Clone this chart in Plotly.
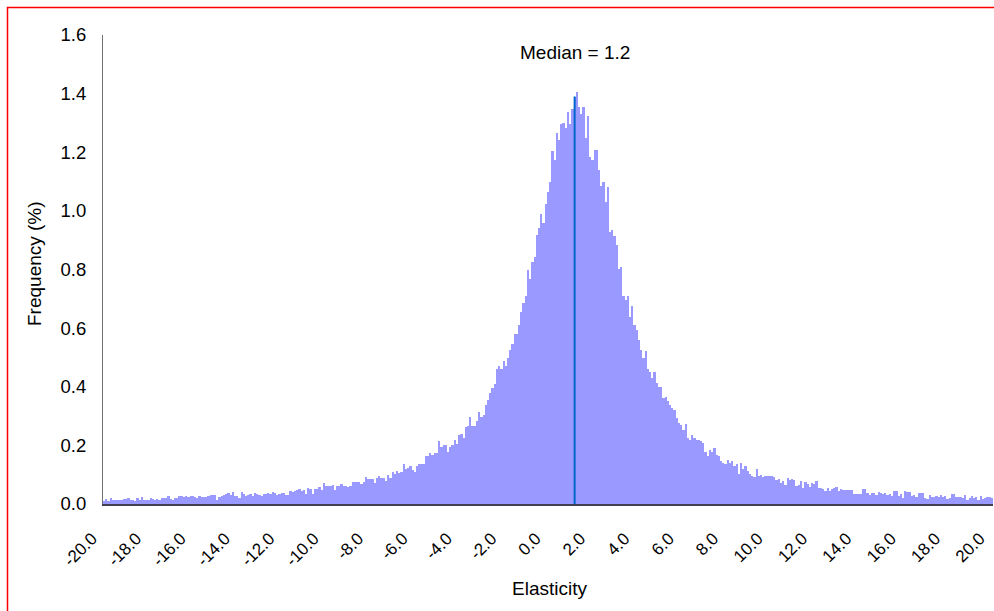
import numpy as np
import plotly.graph_objects as go

# Histogram of elasticity, bins of width 0.1 starting at -20.0
bin_start = -20.0
bin_width = 0.1

freq_left = [
    0.010, 0.017, 0.010, 0.020, 0.014, 0.014, 0.014, 0.014, 0.014, 0.017,
    0.017, 0.020, 0.014, 0.014, 0.010, 0.020, 0.014, 0.024, 0.014, 0.014,
    0.014, 0.020, 0.017, 0.014, 0.017, 0.014, 0.020, 0.020, 0.020, 0.027,
    0.017, 0.014, 0.020, 0.020, 0.027, 0.027, 0.024, 0.027, 0.024, 0.027,
    0.027, 0.024, 0.020, 0.027, 0.024, 0.024, 0.024, 0.027, 0.031, 0.031,
    0.031, 0.014, 0.024, 0.027, 0.031, 0.034, 0.038, 0.031, 0.041, 0.027,
    0.027, 0.020, 0.041, 0.034, 0.027, 0.031, 0.034, 0.027, 0.038, 0.034,
    0.031, 0.027, 0.034, 0.034, 0.038, 0.034, 0.041, 0.038, 0.031, 0.034,
    0.038, 0.038, 0.031, 0.031, 0.044, 0.041, 0.044, 0.048, 0.051, 0.044,
    0.048, 0.034, 0.055, 0.051, 0.034, 0.051, 0.051, 0.058, 0.048, 0.072,
    0.061, 0.061, 0.061, 0.065, 0.048, 0.061, 0.061, 0.068, 0.061, 0.061,
    0.058, 0.061, 0.075, 0.075, 0.075, 0.075, 0.068, 0.075, 0.092, 0.085,
    0.085, 0.085, 0.072, 0.089, 0.096, 0.089, 0.089, 0.079, 0.099, 0.089,
    0.109, 0.102, 0.113, 0.106, 0.109, 0.137, 0.120, 0.123, 0.130, 0.116,
    0.109, 0.130, 0.137, 0.137, 0.137, 0.164, 0.164, 0.174, 0.168, 0.174,
    0.174, 0.215, 0.195, 0.201, 0.201, 0.177, 0.195, 0.201, 0.218, 0.205,
]

freq_center = [
    0.235, 0.240, 0.226, 0.261, 0.267, 0.298, 0.267, 0.267, 0.284, 0.315,
    0.298, 0.305, 0.339, 0.356, 0.380, 0.397, 0.411, 0.462, 0.472, 0.462,
    0.489, 0.472, 0.499, 0.527, 0.547, 0.581, 0.581, 0.612, 0.656, 0.687,
    0.711, 0.800, 0.766, 0.824, 0.841, 0.919, 0.940, 0.991, 0.957, 1.025,
    1.066, 1.100, 1.203, 1.172, 1.264, 1.243, 1.295, 1.301, 1.284, 1.336,
    1.298, 1.346, 1.390, 1.404, 1.353, 1.332, 1.356, 1.247, 1.325, 1.185,
    1.175, 1.209, 1.209, 1.138, 1.086, 1.100, 1.032, 1.080, 0.929, 0.936,
    0.916, 0.882, 0.803, 0.807, 0.708, 0.697, 0.711, 0.639, 0.677, 0.612,
    0.595, 0.561, 0.527, 0.499, 0.523, 0.462, 0.452, 0.431, 0.452, 0.414,
    0.400, 0.400, 0.363, 0.366, 0.353, 0.339, 0.329, 0.322, 0.295, 0.278,
    0.271, 0.254, 0.274, 0.225,
]

freq_right = [
    0.218, 0.235, 0.225, 0.218, 0.218, 0.215, 0.208, 0.177, 0.164, 0.184,
    0.177, 0.191, 0.167, 0.164, 0.147, 0.140, 0.137, 0.150, 0.140, 0.147,
    0.130, 0.137, 0.102, 0.140, 0.119, 0.130, 0.113, 0.102, 0.096, 0.092,
    0.119, 0.096, 0.099, 0.092, 0.096, 0.096, 0.096, 0.096, 0.092, 0.082,
    0.085, 0.072, 0.078, 0.065, 0.089, 0.082, 0.085, 0.082, 0.061, 0.065,
    0.078, 0.055, 0.075, 0.068, 0.058, 0.072, 0.068, 0.078, 0.055, 0.055,
    0.051, 0.044, 0.055, 0.044, 0.051, 0.055, 0.058, 0.044, 0.051, 0.048,
    0.048, 0.048, 0.048, 0.048, 0.034, 0.034, 0.034, 0.034, 0.051, 0.051,
    0.038, 0.031, 0.038, 0.038, 0.031, 0.041, 0.038, 0.034, 0.038, 0.031,
    0.034, 0.027, 0.044, 0.044, 0.027, 0.034, 0.020, 0.044, 0.041, 0.041,
    0.027, 0.031, 0.024, 0.038, 0.038, 0.038, 0.020, 0.017, 0.031, 0.024,
    0.024, 0.027, 0.024, 0.031, 0.024, 0.027, 0.017, 0.020, 0.034, 0.034,
    0.024, 0.024, 0.024, 0.020, 0.031, 0.014, 0.020, 0.027, 0.020, 0.024,
    0.014, 0.027, 0.017, 0.020, 0.024, 0.024, 0.020,
]

median_value = 1.2
median_height = 1.39
median_label = "Median = 1.2"

tick_values = [-20, -18, -16, -14, -12, -10, -8, -6, -4, -2, 0, 2, 4, 6, 8, 10, 12, 14, 16, 18, 20]
tick_labels = ["-20.0", "-18.0", "-16.0", "-14.0", "-12.0", "-10.0", "-8.0", "-6.0", "-4.0", "-2.0",
               "0.0", "2.0", "4.0", "6.0", "8.0", "10.0", "12.0", "14.0", "16.0", "18.0", "20.0"]

freq = freq_left + freq_center + freq_right
bins = np.round(bin_start + bin_width * np.arange(len(freq)), 1)

FONT = "Liberation Sans, Arial, sans-serif"

fig = go.Figure()
fig.add_trace(go.Bar(
    x=bins, y=freq, width=bin_width,
    marker=dict(color="#9999FF", line=dict(width=0)),
    hoverinfo="x+y", showlegend=False,
))
fig.add_trace(go.Scatter(
    x=[median_value, median_value], y=[0, median_height],
    mode="lines", line=dict(color="#0066CC", width=2),
    showlegend=False, hoverinfo="skip",
))

W, H = 994, 611
L, R, T, B = 103, 1, 35, 107
pw, ph = W - L - R, H - T - B

def px(xp):
    return (xp - L) / pw

def py(yp):
    return (H - B - yp) / ph

fig.update_layout(
    width=W, height=H,
    margin=dict(l=L, r=R, t=T, b=B, pad=0),
    paper_bgcolor="white", plot_bgcolor="white",
    bargap=0,
    font=dict(family=FONT, size=18.5, color="black"),
    xaxis=dict(
        range=[bin_start - bin_width / 2, 20 + bin_width / 2],
        tickmode="array", tickvals=tick_values, ticktext=tick_labels,
        tickangle=-45, tickfont=dict(size=17),
        showgrid=False, zeroline=False, ticks="",
        ticklabelstandoff=16, ticklabelshift=-12,
        ticklabeloverflow="allow",
        showline=True, linecolor="#404050", linewidth=2,
        fixedrange=True,
    ),
    yaxis=dict(
        range=[0, 1.6], dtick=0.2, tick0=0, tickformat=".1f",
        tickfont=dict(size=18.5),
        showgrid=False, zeroline=False, ticks="",
        ticklabelstandoff=12,
        showline=True, linecolor="#707070", linewidth=1,
        fixedrange=True,
    ),
    annotations=[
        dict(text=median_label, xref="paper", yref="paper", x=px(575), y=py(53),
             showarrow=False, font=dict(size=19), xanchor="center", yanchor="middle"),
        dict(text="Frequency (%)", xref="paper", yref="paper", x=px(34), y=py(264),
             showarrow=False, textangle=-90, font=dict(size=19), xanchor="center", yanchor="middle"),
        dict(text="Elasticity", xref="paper", yref="paper", x=px(549), y=py(588),
             showarrow=False, font=dict(size=19), xanchor="center", yanchor="middle"),
    ],
    shapes=[
        dict(type="rect", xref="paper", yref="paper",
             x0=px(7.5), x1=px(1100), y0=py(700), y1=py(7.5),
             line=dict(color="#FF0000", width=1.5), fillcolor="rgba(0,0,0,0)", layer="above"),
    ],
)

fig.write_html(
    "out.html",
    config={"displayModeBar": False},
    post_script="document.body.style.margin='0';document.body.style.overflow='hidden';",
)
